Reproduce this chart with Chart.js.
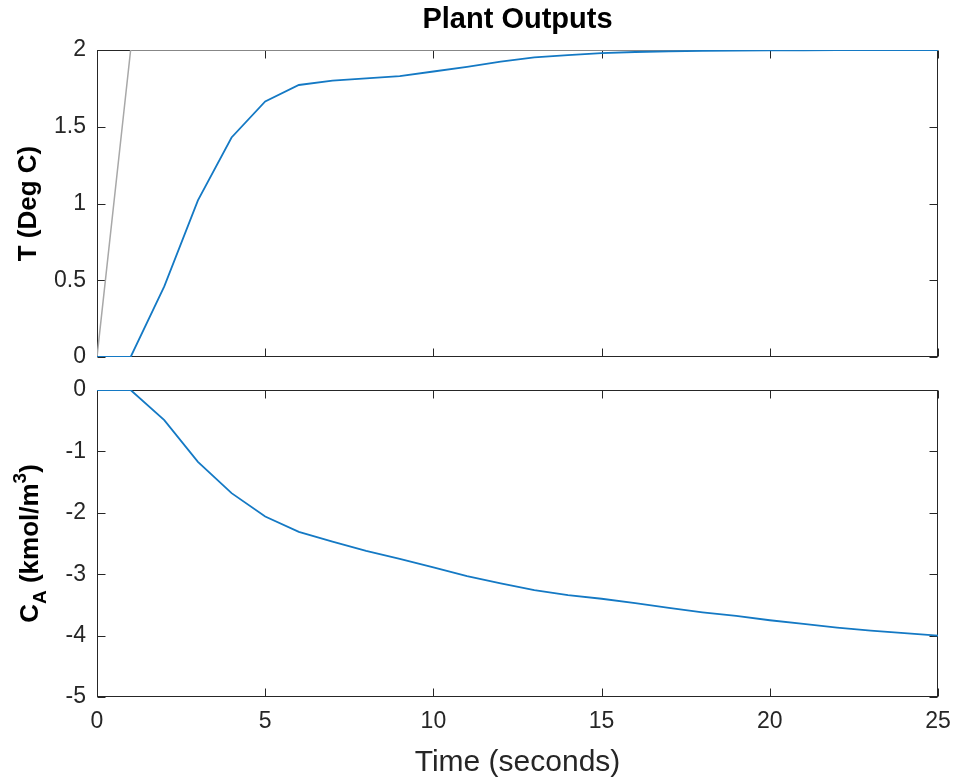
<!DOCTYPE html>
<html><head><meta charset="utf-8">
<script src="https://cdn.jsdelivr.net/npm/chart.js@4.4.1/dist/chart.umd.min.js"></script>
<style>
html,body{margin:0;padding:0;background:#fff;width:958px;height:780px;overflow:hidden}
#topChart{position:absolute;left:0;top:0}
#botChart{position:absolute;left:0;top:375px}
</style></head><body>
<canvas id="topChart" width="958" height="375"></canvas>
<canvas id="botChart" width="958" height="405"></canvas>
<script>
const timeSeconds = [0,1,2,3,4,5,6,7,8,9,10,11,12,13,14,15,16,17,18,19,20,21,22,23,24,25];
const temperatureSetpoint = [0,2,2,2,2,2,2,2,2,2,2,2,2,2,2,2,2,2,2,2,2,2,2,2,2,2];
const temperatureOutput = [0,0,0.46,1.02,1.43,1.665,1.772,1.80,1.815,1.83,1.86,1.89,1.924,1.952,1.967,1.98,1.987,1.991,1.994,1.996,1.997,1.998,1.999,1.999,2.0,2.0];
const concentrationOutput = [0,0,-0.49,-1.17,-1.68,-2.06,-2.31,-2.47,-2.62,-2.75,-2.89,-3.03,-3.15,-3.26,-3.34,-3.40,-3.47,-3.55,-3.62,-3.68,-3.75,-3.81,-3.87,-3.92,-3.96,-4.0];
const timeTicks = [0,5,10,15,20,25];
const temperatureTicks = [0,0.5,1,1.5,2];
const concentrationTicks = [-5,-4,-3,-2,-1,0];

const FONT = '"Liberation Sans", Arial, Helvetica, sans-serif';
const AXIS_COLOR = '#262626';
const LINE_BLUE = '#1479c4';
const LINE_GRAY = '#a8a8a8';

function pts(xs, ys){ return xs.map((x,i)=>({x:x, y:ys[i]})); }

const matlabAxes = {
  id: 'matlabAxes',
  beforeDatasetsDraw(chart, args, opts){
    const ctx = chart.ctx, a = chart.chartArea;
    const xs = chart.scales.x, ys = chart.scales.y;
    ctx.save();
    ctx.strokeStyle = AXIS_COLOR;
    ctx.lineWidth = 1;
    const L = Math.round(a.left)+0.5, R = Math.round(a.right)-0.5;
    const T = Math.round(a.top)+0.5, B = Math.round(a.bottom)-0.5;
    ctx.strokeRect(L, T, R-L, B-T);
    const tl = 8;
    ctx.beginPath();
    opts.xTicks.forEach(v=>{
      const p = Math.round(xs.getPixelForValue(v))+0.5;
      ctx.moveTo(p, B); ctx.lineTo(p, B-tl);
      ctx.moveTo(p, T); ctx.lineTo(p, T+tl);
    });
    opts.yTicks.forEach(v=>{
      const p = Math.round(ys.getPixelForValue(v))+0.5;
      ctx.moveTo(L, p); ctx.lineTo(L+tl, p);
      ctx.moveTo(R, p); ctx.lineTo(R-tl, p);
    });
    ctx.stroke();
    ctx.restore();
  },
  afterDraw(chart, args, opts){
    const ctx = chart.ctx, a = chart.chartArea;
    const cx = (a.left + a.right)/2, cy = (a.top + a.bottom)/2;
    ctx.save();
    ctx.fillStyle = '#000';
    if (opts.title){
      ctx.font = 'bold 29px ' + FONT;
      ctx.textAlign = 'center';
      ctx.textBaseline = 'middle';
      ctx.fillText(opts.title, cx, 20);
    }
    if (opts.xLabel){
      ctx.fillStyle = AXIS_COLOR;
      ctx.font = '30px ' + FONT;
      ctx.textAlign = 'center';
      ctx.textBaseline = 'middle';
      ctx.fillText(opts.xLabel, cx, chart.height - 17);
    }
    if (opts.yLabelParts){
      ctx.fillStyle = '#000';
      ctx.translate(opts.yLabelX, cy);
      ctx.rotate(-Math.PI/2);
      ctx.textBaseline = 'alphabetic';
      ctx.textAlign = 'left';
      let total = 0;
      opts.yLabelParts.forEach(p=>{
        ctx.font = 'bold ' + p.size + 'px ' + FONT;
        p.w = ctx.measureText(p.text).width;
        total += p.w;
      });
      let x = -total/2;
      opts.yLabelParts.forEach(p=>{
        ctx.font = 'bold ' + p.size + 'px ' + FONT;
        ctx.fillText(p.text, x, p.dy);
        x += p.w;
      });
    }
    ctx.restore();
  }
};

function tickSetter(list){
  return function(scale){ scale.ticks = list.map(v=>({value:v})); };
}
function zeroPad(s){ s.paddingTop = 0; s.paddingBottom = 0; s.paddingLeft = 0; s.paddingRight = 0; }

const tickFont = {family: FONT, size: 23};

new Chart(document.getElementById('topChart'), {
  type: 'line',
  data: {
    datasets: [
      {data: pts(timeSeconds, temperatureOutput), borderColor: LINE_BLUE, borderWidth: 1.8, pointRadius: 0, tension: 0, fill: false},
      {data: pts(timeSeconds, temperatureSetpoint), borderColor: LINE_GRAY, borderWidth: 1.5, pointRadius: 0, tension: 0, fill: false}
    ]
  },
  options: {
    responsive: false, animation: false,
    layout: {padding: {top: 50, right: 20, bottom: 18, left: 0}},
    plugins: {
      legend: {display: false}, tooltip: {enabled: false},
      matlabAxes: {
        xTicks: timeTicks, yTicks: temperatureTicks, title: 'Plant Outputs',
        yLabelX: 36, yLabelParts: [{text: 'T (Deg C)', size: 26, dy: 0}]
      }
    },
    scales: {
      x: {type: 'linear', min: 0, max: 25, display: false, afterBuildTicks: tickSetter(timeTicks), afterFit: zeroPad},
      y: {
        type: 'linear', min: 0, max: 2,
        afterBuildTicks: tickSetter(temperatureTicks),
        afterFit(s){ s.width = 97; zeroPad(s); },
        grid: {display: false, drawTicks: false}, border: {display: false},
        ticks: {font: tickFont, color: AXIS_COLOR, padding: 11, callback: v => String(v)}
      }
    }
  },
  plugins: [matlabAxes]
});

new Chart(document.getElementById('botChart'), {
  type: 'line',
  data: {
    datasets: [
      {data: pts(timeSeconds, concentrationOutput), borderColor: LINE_BLUE, borderWidth: 1.8, pointRadius: 0, tension: 0, fill: false}
    ]
  },
  options: {
    responsive: false, animation: false,
    layout: {padding: {top: 15, right: 20, bottom: 0, left: 0}},
    plugins: {
      legend: {display: false}, tooltip: {enabled: false},
      matlabAxes: {
        xTicks: timeTicks, yTicks: concentrationTicks, xLabel: 'Time (seconds)',
        yLabelX: 38, yLabelParts: [
          {text: 'C', size: 26, dy: 0},
          {text: 'A', size: 19, dy: 8},
          {text: ' (kmol/m', size: 26, dy: 0},
          {text: '3', size: 19, dy: -12},
          {text: ')', size: 26, dy: 0}
        ]
      }
    },
    scales: {
      x: {
        type: 'linear', min: 0, max: 25,
        afterBuildTicks: tickSetter(timeTicks),
        afterFit(s){ s.height = 83; zeroPad(s); },
        grid: {display: false, drawTicks: false}, border: {display: false},
        ticks: {font: tickFont, color: AXIS_COLOR, padding: 11, maxRotation: 0, callback: v => String(v)}
      },
      y: {
        type: 'linear', min: -5, max: 0,
        afterBuildTicks: tickSetter(concentrationTicks),
        afterFit(s){ s.width = 97; zeroPad(s); },
        grid: {display: false, drawTicks: false}, border: {display: false},
        ticks: {font: tickFont, color: AXIS_COLOR, padding: 11, callback: v => String(v)}
      }
    }
  },
  plugins: [matlabAxes]
});
</script>
</body></html>
